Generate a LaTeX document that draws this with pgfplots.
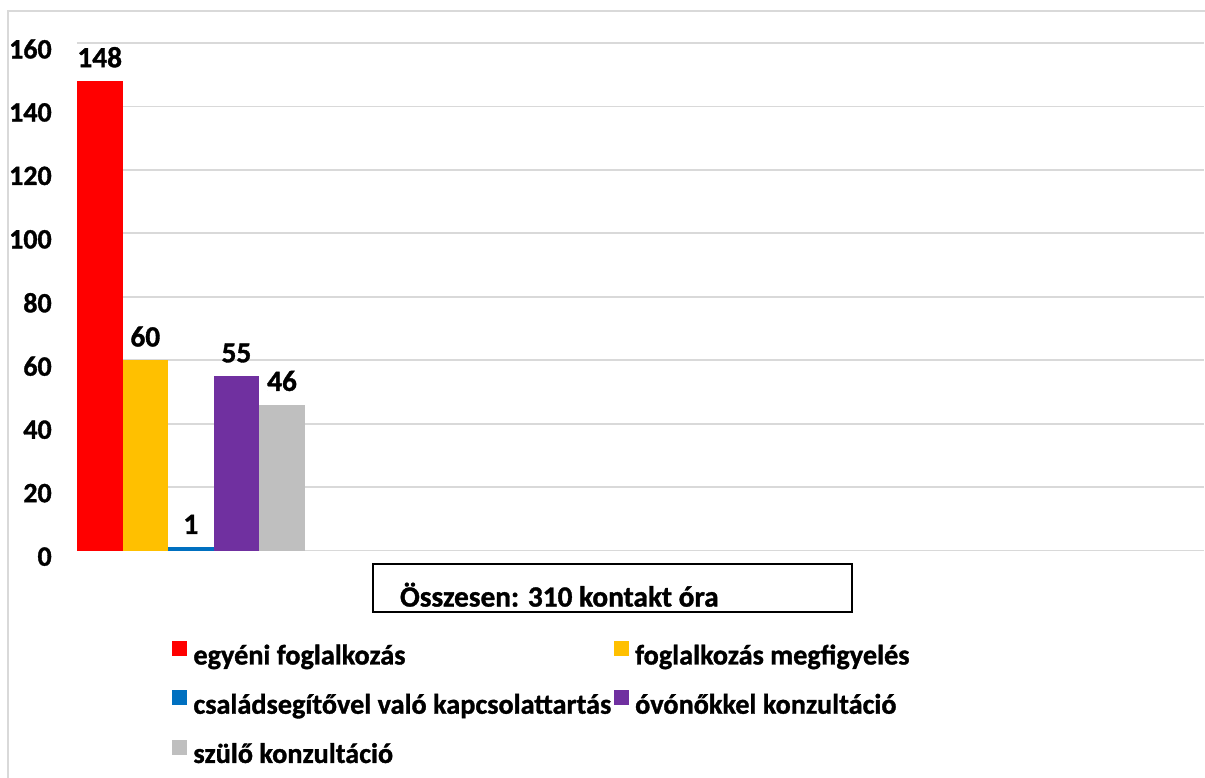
\documentclass[border=0pt]{standalone}
\usepackage{pgfplots}
\pgfplotsset{compat=1.18}
\usepackage{fontspec}
\setmainfont{Carlito}[BoldFeatures={FakeBold=1.2}]
\definecolor{cred}{HTML}{FF0000}
\definecolor{corange}{HTML}{FFC000}
\definecolor{cblue}{HTML}{0070C0}
\definecolor{cpurple}{HTML}{7030A0}
\definecolor{cgray}{HTML}{BFBFBF}
\definecolor{gridgray}{HTML}{D9D9D9}
\begin{document}
\begin{tikzpicture}
\begin{scope}[x=0.75pt,y=-0.75pt]
\useasboundingbox (0,0) rectangle (1205,778);
\draw[gridgray, line width=1.5pt] (8,900) -- (8,11) -- (1300,11);
\end{scope}
\begin{axis}[
  at={(57.75pt,-413.25pt)}, anchor=south west,
  scale only axis, width=846pt, height=381pt,
  xmin=0, xmax=4.947, ymin=0, ymax=160,
  ytick={0,20,...,160}, xtick=\empty,
  ymajorgrids, grid style={gridgray, line width=1.3pt},
  axis line style={draw=none}, major tick length=0pt,
  /pgf/number format/assume math mode=true,
  yticklabel style={font=\fontsize{21}{25}\selectfont\bfseries, inner sep=0pt, anchor=east, xshift=-18.75pt, yshift=-4.5pt},
  ybar, bar width=0.2, bar shift=0pt,
  nodes near coords,
  every node near coord/.append style={font=\fontsize{22}{26}\selectfont\bfseries, black, inner sep=0pt, anchor=south, yshift=10pt},
  legend columns=2,
  legend cell align=left,
  legend image code/.code={\fill[#1] (0pt,-0.5pt) rectangle (11.25pt,10.75pt); \path (15.5pt,0pt);},
  legend style={at={(0.0842,-0.178)}, anchor=north west, draw=none, fill=none, inner sep=0pt,
    font=\fontsize{21.2}{25}\selectfont\bfseries, row sep=16pt,
    /tikz/every even column/.append style={column sep=0pt},
    /tikz/every odd column/.append style={column sep=-1.5pt}},
]
\addplot[fill=cred, draw=none] coordinates {(0.1,148)};
\addlegendentry{egyéni foglalkozás}
\addplot[fill=corange, draw=none] coordinates {(0.3,60)};
\addlegendentry{foglalkozás megfigyelés}
\addplot[fill=cblue, draw=none] coordinates {(0.5,1)};
\addlegendentry{családsegítővel való kapcsolattartás}
\addplot[fill=cpurple, draw=none] coordinates {(0.7,55)};
\addlegendentry{óvónőkkel konzultáció}
\addplot[fill=cgray, draw=none] coordinates {(0.9,46)};
\addlegendentry{szülő konzultáció}
\end{axis}
\begin{scope}[x=0.75pt,y=-0.75pt]
\draw[black, line width=1.5pt] (373,564) rectangle (853,612);
\node[anchor=base west, inner sep=0pt, font=\fontsize{22}{26}\selectfont\bfseries] at (400,607) {Összesen: 310 kontakt óra};
\end{scope}
\end{tikzpicture}
\end{document}
